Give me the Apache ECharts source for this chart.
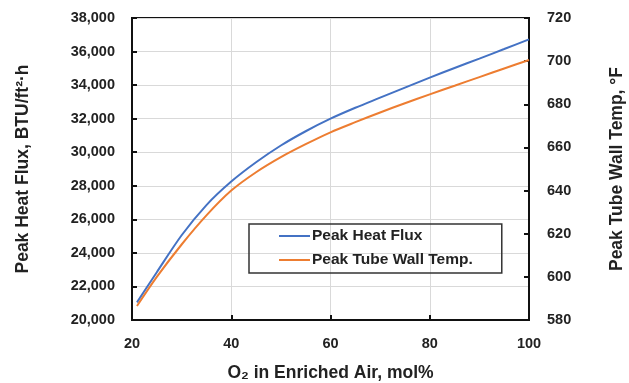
<!DOCTYPE html>
<html><head><meta charset="utf-8">
<script src="https://cdn.jsdelivr.net/npm/echarts@6/dist/echarts.min.js"></script>
<style>html,body{margin:0;padding:0;background:#fff}#c{width:629px;height:383px}</style>
</head><body><div id="c"></div>
<script>
const o2 = [21, 25, 30, 35, 40, 45, 50, 55, 60, 65, 70, 75, 80, 85, 90, 95, 100];
const heatFlux = [21050, 22850, 25050, 26850, 28250, 29400, 30400, 31250, 32000, 32650, 33250, 33850, 34450, 35020, 35580, 36150, 36730];
const wallTemp = [586.5, 600, 615, 628.5, 640, 648.5, 655.5, 661.5, 667, 671.7, 676.2, 680.5, 684.6, 688.6, 692.6, 696.6, 700.5];
const FONT = "'Liberation Sans', Arial, sans-serif";
const fmt = v => String(v).replace(/\B(?=(\d{3})+(?!\d))/g, ',');
const chart = echarts.init(document.getElementById('c'));
const labelStyle = {color: '#222', fontFamily: FONT, fontWeight: 'bold', fontSize: 14.5};
const nameStyle = {color: '#222', fontFamily: FONT, fontWeight: 'bold', fontSize: 17.5};
chart.setOption({
  animation: false,
  grid: {left: 132, right: 100, top: 18, bottom: 63, outerBoundsMode: 'none', containLabel: false,
         show: true, borderColor: '#111', borderWidth: 2},
  legend: {
    left: 249, top: 224, orient: 'vertical', icon: 'rect',
    borderColor: '#333', borderWidth: 1.5, padding: [4, 29, 5, 30], itemGap: 8,
    itemWidth: 31, itemHeight: 2,
    textStyle: {color: '#222', fontFamily: FONT, fontWeight: 'bold', fontSize: 15.5, lineHeight: 16, padding: [0,0,0,-3]},
    data: ['Peak Heat Flux', 'Peak Tube Wall Temp.']
  },
  xAxis: {
    type: 'value', min: 20, max: 100, interval: 20,
    name: 'O₂ in Enriched Air, mol%', nameLocation: 'middle', nameGap: 44, nameTextStyle: nameStyle,
    axisLine: {lineStyle: {color: '#111', width: 2}},
    axisTick: {inside: true, length: 5, lineStyle: {color: '#111', width: 2}},
    axisLabel: Object.assign({margin: 16}, labelStyle),
    splitLine: {show: true, lineStyle: {color: '#d9d9d9', width: 1}}
  },
  yAxis: [{
    type: 'value', min: 20000, max: 38000, interval: 2000,
    name: 'Peak Heat Flux, BTU/ft²·h', nameLocation: 'middle', nameGap: 100, nameRotate: 90, nameTextStyle: nameStyle,
    axisLine: {show: true, lineStyle: {color: '#111', width: 2}},
    axisTick: {show: true, inside: true, length: 5, lineStyle: {color: '#111', width: 2}},
    axisLabel: Object.assign({margin: 17, formatter: fmt}, labelStyle),
    splitLine: {show: true, lineStyle: {color: '#d9d9d9', width: 1}}
  }, {
    type: 'value', min: 580, max: 720, interval: 20, position: 'right',
    name: 'Peak Tube Wall Temp, °F', nameLocation: 'middle', nameGap: 79, nameRotate: 90, nameTextStyle: nameStyle,
    axisLine: {show: true, lineStyle: {color: '#111', width: 2}},
    axisTick: {show: true, inside: true, length: 5, lineStyle: {color: '#111', width: 2}},
    axisLabel: Object.assign({margin: 18}, labelStyle),
    splitLine: {show: false}
  }],
  series: [{
    name: 'Peak Heat Flux', type: 'line', yAxisIndex: 0, symbol: 'none', smooth: 0.3,
    data: o2.map((x, i) => [x, heatFlux[i]]), lineStyle: {color: '#4472C4', width: 2}, itemStyle: {color: '#4472C4'}
  }, {
    name: 'Peak Tube Wall Temp.', type: 'line', yAxisIndex: 1, symbol: 'none', smooth: 0.3,
    data: o2.map((x, i) => [x, wallTemp[i]]), lineStyle: {color: '#ED7D31', width: 2}, itemStyle: {color: '#ED7D31'}
  }]
});
</script></body></html>
